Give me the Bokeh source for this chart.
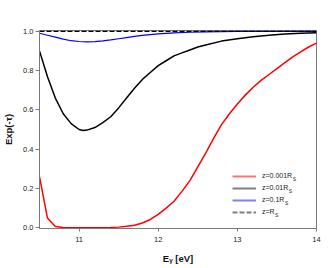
from bokeh.plotting import figure
from bokeh.models import (Range1d, FixedTicker, PrintfTickFormatter, Legend, LegendItem,
                          Label, ColumnDataSource)
from bokeh.embed import file_html
from bokeh.resources import INLINE

# ---- data ----
e_red = [10.5, 10.6, 10.7, 10.8, 10.9, 11.0, 11.1, 11.2, 11.3, 11.4, 11.5, 11.6, 11.7, 11.8,
         11.9, 12.0, 12.1, 12.2, 12.3, 12.4, 12.5, 12.6, 12.7, 12.8, 12.9, 13.0, 13.1, 13.2,
         13.3, 13.4, 13.5, 13.6, 13.7, 13.8, 13.9, 14.0]
t_red = [0.26, 0.05, 0.006, 0.0005, 0.0, 0.0, 0.0, 0.0, 0.0, 0.001, 0.003, 0.007, 0.013, 0.024,
         0.042, 0.068, 0.10, 0.135, 0.185, 0.24, 0.31, 0.38, 0.455, 0.525, 0.58, 0.63, 0.675,
         0.715, 0.75, 0.78, 0.81, 0.84, 0.87, 0.895, 0.92, 0.94]

e_black = [10.5, 10.6, 10.7, 10.8, 10.9, 11.0, 11.05, 11.1, 11.2, 11.3, 11.4, 11.5, 11.6, 11.7,
           11.8, 11.9, 12.0, 12.1, 12.2, 12.3, 12.4, 12.5, 12.6, 12.8, 13.0, 13.2, 13.4, 13.6,
           13.8, 14.0]
t_black = [0.90, 0.77, 0.66, 0.58, 0.53, 0.50, 0.495, 0.497, 0.51, 0.535, 0.565, 0.61, 0.66,
           0.71, 0.755, 0.79, 0.825, 0.85, 0.875, 0.89, 0.905, 0.92, 0.93, 0.95, 0.962, 0.972,
           0.98, 0.986, 0.99, 0.993]

e_blue = [10.5, 10.6, 10.7, 10.8, 10.9, 11.0, 11.1, 11.2, 11.3, 11.4, 11.5, 11.6, 11.7, 11.8,
          11.9, 12.0, 12.2, 12.4, 12.6, 13.0, 14.0]
t_blue = [0.99, 0.98, 0.97, 0.96, 0.952, 0.948, 0.946, 0.947, 0.951, 0.956, 0.962, 0.968,
          0.974, 0.979, 0.983, 0.987, 0.992, 0.995, 0.997, 0.999, 1.0]

e_dash = [10.5, 14.0]
t_dash = [1.0, 1.0]

legend_labels = ["z=0.001R", "z=0.01R", "z=0.1R", "z=R"]
legend_sub = "S"
x_ticks = [11, 12, 13, 14]
y_ticks = [0.0, 0.2, 0.4, 0.6, 0.8, 1.0]
x_label = "E\u1d67 [eV]"
y_label = "Exp(-τ)"

FONT = "Liberation Sans"
AX = "#7a7a7a"

p = figure(width=332, height=268, output_backend="svg", toolbar_location=None,
           x_range=Range1d(10.5, 14.0), y_range=Range1d(-0.004, 1.004),
           min_border_left=39, min_border_right=16, min_border_top=30, min_border_bottom=40)
p.background_fill_color = "white"
p.border_fill_color = "white"
p.outline_line_color = AX
p.outline_line_width = 1
p.xgrid.visible = False
p.ygrid.visible = False

red = p.line(e_red, t_red, line_color="#ff0000", line_width=1.5)
blk = p.line(e_black, t_black, line_color="#000000", line_width=1.5)
blu = p.line(e_blue, t_blue, line_color="#0000ff", line_width=1.2)
dsh = p.line(e_dash, t_dash, line_color="#000000", line_width=1.5, line_dash="5 2")

# legend proxies (nothing visible is drawn; lighter style like in the reference legend)
nan = float("nan")
def proxy(**kw):
    return p.line("x", "y", source=ColumnDataSource(dict(x=[nan], y=[nan])), line_width=2, **kw)
r1 = proxy(line_color="#ff0000", line_alpha=0.55)
r2 = proxy(line_color="#000000", line_alpha=0.5)
r3 = proxy(line_color="#0000ff", line_alpha=0.5)
r4 = proxy(line_color="#000000", line_alpha=0.5, line_dash="5 2")

legend = Legend(items=[LegendItem(label=l, renderers=[r]) for l, r in zip(legend_labels, [r1, r2, r3, r4])],
                location=(193, 10.5), glyph_width=24, glyph_height=12, label_height=12,
                spacing=0, padding=0, margin=0, label_standoff=6,
                border_line_alpha=0, background_fill_alpha=0,
                label_text_font=FONT, label_text_font_size="7px", label_text_color="#222222",
                label_text_baseline="middle")
p.add_layout(legend, "center")

# subscripts "S" after each legend label (screen units relative to the plot frame)
widths = [30.2, 26.3, 22.4, 12.6]
row_y = [52.5, 40.5, 28.5, 16.5]
for w, yy in zip(widths, row_y):
    p.add_layout(Label(x=223 + w, y=yy - 2.5, x_units="screen", y_units="screen", text=legend_sub,
                       text_font=FONT, text_font_size="5px", text_color="#222222",
                       text_baseline="middle", text_align="left"))

# axes
p.xaxis.ticker = FixedTicker(ticks=x_ticks)
p.yaxis.ticker = FixedTicker(ticks=y_ticks)
p.yaxis.formatter = PrintfTickFormatter(format="%.1f")
for ax in (p.xaxis, p.yaxis):
    ax.axis_line_color = AX
    ax.major_tick_line_color = AX
    ax.minor_tick_line_color = None
    ax.major_tick_in = 0
    ax.major_tick_out = 3
    ax.major_label_text_font = FONT
    ax.major_label_text_font_size = "7.5px"
    ax.major_label_text_color = "#222222"
    ax.axis_label_text_font = FONT
    ax.axis_label_text_font_style = "bold"
    ax.axis_label_text_color = "#111111"
p.yaxis.major_tick_out = 4
p.xaxis.major_label_standoff = 5
p.yaxis.major_label_standoff = 2
p.yaxis.axis_label = y_label
p.yaxis.axis_label_text_font_size = "9.5px"
p.yaxis.axis_label_standoff = 6
p.xaxis.axis_label = x_label
p.xaxis.axis_label_text_font_size = "9.5px"
p.xaxis.axis_label_standoff = 8

open("out.html", "w").write(file_html(p, INLINE))
